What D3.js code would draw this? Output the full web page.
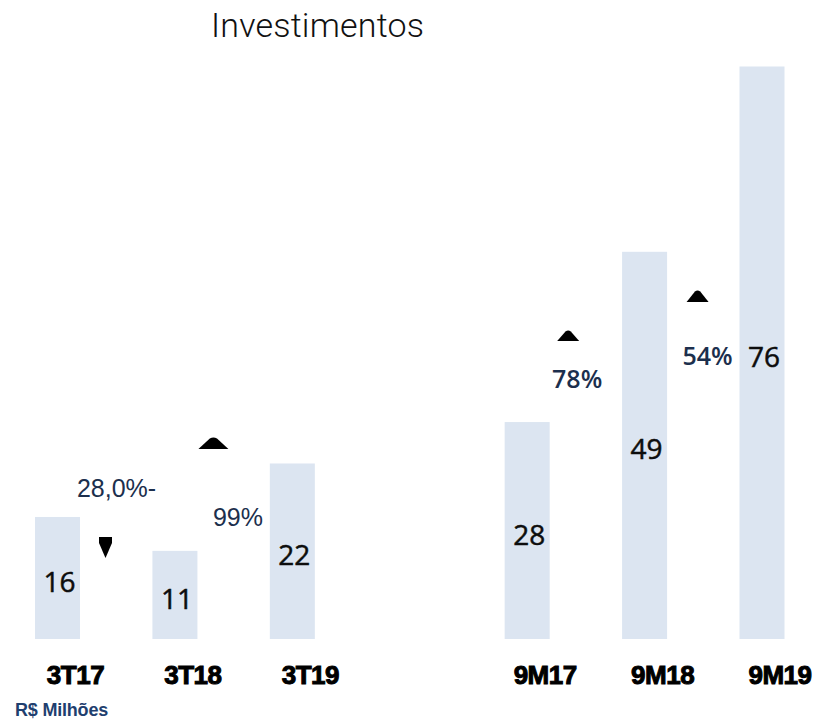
<!DOCTYPE html>
<html>
<head>
<meta charset="utf-8">
<script src="https://cdn.jsdelivr.net/npm/d3@7"></script>
<style>
  body { margin: 0; background: #fff; }
  svg { display: block; }
</style>
</head>
<body>
<div id="chart"></div>
<script>
// categories (the blank one is the gap between quarter and nine-month groups)
const categories = ["3T17", "3T18", "3T19", "", "9M17", "9M18", "9M19"];
const barCategories = ["3T17", "3T18", "3T19", "9M17", "9M18", "9M19"];
// bar heights, in R$ milhões
const values = [16.2, 11.7, 23.3, 28.8, 51.4, 76];
const valueLabels = ["16", "11", "22", "28", "49", "76"];
// change annotations between consecutive bars
const changeFrom = ["3T17", "3T18", "9M17", "9M18"];
const changeText = ["28,0%-", "99%", "78%", "54%"];
const changeDir = ["down", "up", "up", "up"];

(function() {
    const width = 816;
    const height = 720;
    const baseline = 639;

    const svg = d3.select("#chart")
        .append("svg")
        .attr("width", width)
        .attr("height", height);

    const x = d3.scalePoint()
        .domain(categories)
        .range([57.5, 762]);

    const y = d3.scaleLinear()
        .domain([0, 76])
        .range([baseline, 66.5]);

    const barWidth = 45;

    // title
    svg.append("text")
        .attr("x", 211)
        .attr("y", 37)
        .style("font-family", "Roboto, 'Liberation Sans', sans-serif")
        .style("font-weight", 300)
        .style("font-size", "34px")
        .style("letter-spacing", "0.2px")
        .style("fill", "#111")
        .text("Investimentos");

    const bars = barCategories.map((c, i) => ({ cat: c, value: values[i], label: valueLabels[i] }));

    svg.append("g")
        .selectAll("rect")
        .data(bars)
        .enter().append("rect")
        .attr("x", d => x(d.cat) - barWidth / 2)
        .attr("y", d => y(d.value))
        .attr("width", barWidth)
        .attr("height", d => baseline - y(d.value))
        .attr("fill", "#dce5f1");

    // value labels in the middle of each bar
    svg.append("g")
        .selectAll("text")
        .data(bars)
        .enter().append("text")
        .attr("x", d => x(d.cat) + 2)
        .attr("y", d => (y(d.value) + baseline) / 2 + 14)
        .attr("text-anchor", "middle")
        .style("font-family", "'Open Sans', 'Noto Sans', sans-serif")
        .style("font-size", "28px")
        .style("fill", "#0d0d0d")
        .style("stroke", "#0d0d0d")
        .style("stroke-width", "0.5px")
        .text(d => d.label);

    // category labels
    svg.append("g")
        .selectAll("text")
        .data(barCategories)
        .enter().append("text")
        .attr("x", d => x(d) + 18)
        .attr("y", 684)
        .attr("text-anchor", "middle")
        .style("font-family", "'Liberation Sans', Arial, sans-serif")
        .style("font-size", "26px")
        .style("font-weight", "bold")
        .style("letter-spacing", "-0.5px")
        .style("stroke", "#000")
        .style("stroke-width", "1px")
        .style("fill", "#000")
        .text(d => d);

    // change annotations: offsets from the left bar centre (text + triangle)
    const annLayout = [
        { tx: 59, ty: 497, font: "'Liberation Sans', Arial, sans-serif", weight: "normal", size: 25, triX: 48, triY: 537, w: 13, h: 21 },
        { tx: 63, ty: 526, font: "'Liberation Sans', Arial, sans-serif", weight: "normal", size: 25, triX: 38.5, triY: 437, w: 30, h: 12 },
        { tx: 50, ty: 388, font: "'Open Sans', sans-serif", weight: 600, size: 25, triX: 41, triY: 330, w: 22, h: 11 },
        { tx: 63, ty: 365, font: "'Open Sans', sans-serif", weight: 600, size: 25, triX: 53, triY: 290, w: 22, h: 12 }
    ];

    const ann = changeFrom.map((c, i) => Object.assign({ cat: c, text: changeText[i], dir: changeDir[i] }, annLayout[i]));

    svg.append("g")
        .selectAll("text")
        .data(ann)
        .enter().append("text")
        .attr("x", d => x(d.cat) + d.tx)
        .attr("y", d => d.ty)
        .attr("text-anchor", "middle")
        .style("font-family", d => d.font)
        .style("font-weight", d => d.weight)
        .style("font-size", d => d.size + "px")
        .style("fill", "#1c2f4d")
        .text(d => d.text);

    svg.append("g")
        .selectAll("path")
        .data(ann)
        .enter().append("path")
        .attr("d", d => {
            const cx = x(d.cat) + d.triX;
            const t = d.triY;
            if (d.dir === "down") {
                return `M${cx - d.w / 2},${t} L${cx + d.w / 2},${t} L${cx + d.w / 2},${t + 6} L${cx},${t + d.h} L${cx - d.w / 2},${t + 6} Z`;
            }
            return `M${cx - d.w / 2},${t + d.h} L${cx - d.w * 0.12},${t + 1.5} Q${cx},${t - 0.5} ${cx + d.w * 0.12},${t + 1.5} L${cx + d.w / 2},${t + d.h} Z`;
        })
        .attr("fill", "#000");

    svg.append("text")
        .attr("x", 15)
        .attr("y", 716)
        .style("font-family", "'Liberation Sans', Arial, sans-serif")
        .style("font-size", "18px")
        .style("font-weight", "bold")
        .style("letter-spacing", "-0.2px")
        .style("fill", "#1f3f6f")
        .text("R$ Milhões");
})();
</script>
</body>
</html>
